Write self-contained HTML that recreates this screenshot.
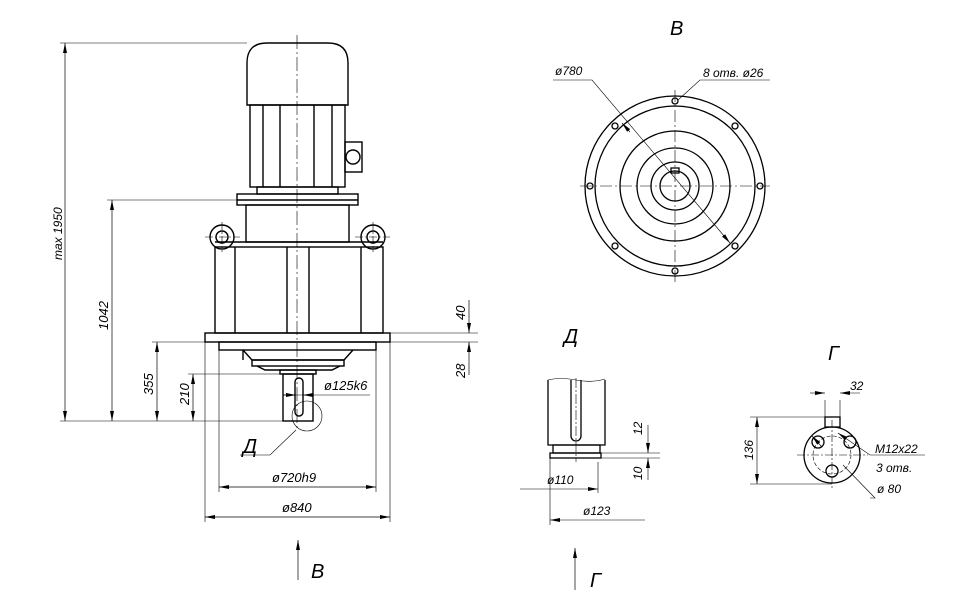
<!DOCTYPE html>
<html><head><meta charset="utf-8"><style>
html,body{margin:0;padding:0;background:#fff}
svg{display:block}
text{font-family:"Liberation Sans",sans-serif;font-style:italic;fill:#000}
</style></head><body>
<svg width="980" height="609" viewBox="0 0 980 609" xmlns="http://www.w3.org/2000/svg">
<defs>
<marker id="a" viewBox="0 0 10 4" refX="10" refY="2" markerWidth="10" markerHeight="4" orient="auto-start-reverse" markerUnits="userSpaceOnUse"><path d="M0,0L10,2L0,4z" fill="#000"/></marker>
</defs>
<g fill="none" stroke="#000" stroke-width="1.4">
<!-- motor -->
<path d="M247,105V63Q247,43 267,43H328Q348,43 348,63V105Z"/>
<rect x="250" y="105" width="95" height="82"/>
<path d="M263,105V187M280,105V187M314,105V187M332,105V187"/>
<rect x="345" y="142" width="17" height="30"/>
<circle cx="353" cy="157" r="7"/>
<rect x="257" y="187" width="81" height="7"/>
<rect x="237" y="194" width="121" height="11"/>
<path d="M237,200H358"/>
<rect x="246" y="205" width="103" height="37"/>
<circle cx="222" cy="237" r="12"/><circle cx="222" cy="237" r="6"/>
<circle cx="373" cy="237" r="12"/><circle cx="373" cy="237" r="6"/>
<path d="M215,242H383"/>
<rect x="215" y="247" width="168" height="86"/>
<path d="M235,247V333M361,247V333M287,247V333M309,247V333"/>
<rect x="205" y="333" width="185" height="9"/>
<rect x="219" y="342" width="157" height="8"/>
<path d="M243,350L252,360H344L353,350M243,350V360"/>
<rect x="252" y="360" width="92" height="6"/>
<path d="M257,366L265,370H332L340,366"/>
<rect x="280" y="370" width="36" height="4"/>
<rect x="283" y="374" width="30" height="47"/>
<rect x="295" y="378" width="8" height="38" rx="4"/>
</g>
<g fill="none" stroke="#000" stroke-width="0.6">
<circle cx="307" cy="416" r="15"/>
<path d="M297,35V430" stroke-dasharray="14,3,2,3"/>
<path d="M205,237H240M355,237H390M222,222V252M373,222V252" stroke-dasharray="8,2,2,2"/>
<!-- extension lines -->
<path d="M60,43H247M107,200H237M152,342H205M188,374H280M60,421H283"/>
<path d="M205,342V522M390,342V522M219,350V492M376,350V492"/>
<path d="M390,333H478M390,342H478"/>
<path d="M283,395H370"/>
<path d="M296,430L270,455H240"/>
</g>
<g stroke="#000" stroke-width="0.7" fill="none">
<path d="M65,43V421" marker-start="url(#a)" marker-end="url(#a)"/>
<path d="M112,200V421" marker-start="url(#a)" marker-end="url(#a)"/>
<path d="M157,342V421" marker-start="url(#a)" marker-end="url(#a)"/>
<path d="M193,374V421" marker-start="url(#a)" marker-end="url(#a)"/>
<path d="M219,487H376" marker-start="url(#a)" marker-end="url(#a)"/>
<path d="M205,517H390" marker-start="url(#a)" marker-end="url(#a)"/>
<path d="M469,300V333" marker-end="url(#a)"/>
<path d="M469,375V342" marker-end="url(#a)"/>
<path d="M283,385V395"/>
<path d="M283,395H296" marker-end="url(#a)"/><path d="M313,395H303" marker-end="url(#a)"/>
<path d="M298,580V540" marker-end="url(#a)"/>
<path d="M575,590V548" marker-end="url(#a)"/>
</g>
<g font-size="13">
<text transform="translate(62,260) rotate(-90)" font-size="12">max 1950</text>
<text transform="translate(108,330) rotate(-90)">1042</text>
<text transform="translate(153,395) rotate(-90)">355</text>
<text transform="translate(189,405) rotate(-90)">210</text>
<text transform="translate(465,320) rotate(-90)">40</text>
<text transform="translate(465,378) rotate(-90)">28</text>
<text x="324" y="390">ø125k6</text>
<text x="272" y="482">ø720h9</text>
<text x="282" y="512">ø840</text>
<text x="243" y="453" font-size="20">Д</text>
<text x="311" y="578" font-size="20">В</text>
<text x="590" y="587" font-size="20">Г</text>
<text x="670" y="35" font-size="20">В</text>
<text x="564" y="343" font-size="20">Д</text>
<text x="828" y="360" font-size="20">Г</text>
</g>
<!-- View B -->
<g fill="none" stroke="#000" stroke-width="1.3">
<circle cx="675" cy="186" r="90"/>
<circle cx="675" cy="186" r="80"/>
<circle cx="675" cy="186" r="55"/>
<circle cx="675" cy="186" r="38"/>
<circle cx="675" cy="186" r="24"/>
<circle cx="675" cy="186" r="15"/>
<rect x="671" y="168" width="8" height="5"/>
<circle cx="675" cy="101" r="3"/><circle cx="675" cy="271" r="3"/>
<circle cx="590" cy="186" r="3"/><circle cx="760" cy="186" r="3"/>
<circle cx="615" cy="126" r="3"/><circle cx="735" cy="126" r="3"/>
<circle cx="615" cy="246" r="3"/><circle cx="735" cy="246" r="3"/>
</g>
<g fill="none" stroke="#000" stroke-width="0.6">
<path d="M580,186H770M675,90V282" stroke-dasharray="12,3,2,3"/>
<path d="M553,80H592L730,243" marker-end="url(#a)"/>
<path d="M622,123L630,132" marker-start="url(#a)"/>
<path d="M770,80H700L678,100"/>
</g>
<text x="555" y="75" font-size="12">ø780</text>
<text x="703" y="77" font-size="12">8 отв. ø26</text>
<!-- View D -->
<g fill="none" stroke="#000" stroke-width="1.3">
<path d="M548,380V445H605V380"/>
<path d="M571,380V436A5,5 0 0 0 581,436V380"/>
<rect x="553" y="445" width="47" height="8"/>
<rect x="550" y="453" width="51" height="5"/>
</g>
<g fill="none" stroke="#000" stroke-width="0.6">
<path d="M548,380Q560,377 576,380T605,379"/>
<path d="M576,378V462" stroke-dasharray="10,2,2,2"/>
<path d="M600,453H660M601,458H660M550,458V525M598,462V493"/>
<path d="M520,489H598" marker-end="url(#a)"/>
<path d="M645,520H550" marker-end="url(#a)"/>
<path d="M648,425V453" marker-end="url(#a)"/>
<path d="M648,480V458" marker-end="url(#a)"/>
</g>
<text x="547" y="484" font-size="12">ø110</text>
<text x="583" y="515" font-size="12">ø123</text>
<text transform="translate(642,435) rotate(-90)" font-size="12">12</text>
<text transform="translate(642,480) rotate(-90)" font-size="12">10</text>
<!-- View G -->
<g fill="none" stroke="#000" stroke-width="1.3">
<circle cx="832" cy="455" r="28"/>
<rect x="825" y="417" width="15" height="10"/>
<circle cx="818" cy="442" r="6"/><circle cx="850" cy="442" r="6"/><circle cx="832" cy="471" r="6"/>
</g>
<g fill="none" stroke="#000" stroke-width="0.6">
<circle cx="832" cy="455" r="19" stroke-dasharray="4,2"/>
<path d="M832,420V490M797,455H868" stroke-dasharray="8,2,2,2"/>
<path d="M750,417H825M750,484H832"/>
<path d="M757,417V484" marker-start="url(#a)" marker-end="url(#a)"/>
<path d="M825,400V417M840,400V417"/>
<path d="M810,393H825" marker-end="url(#a)"/><path d="M860,393H840" marker-end="url(#a)"/>
<path d="M925,455H870L838,433" marker-end="url(#a)"/>
<path d="M870,498H875L843,465"/>
<path d="M822,447L812,436" marker-end="url(#a)"/>
</g>
<text x="850" y="390" font-size="12">32</text>
<text transform="translate(753,460) rotate(-90)" font-size="12">136</text>
<text x="875" y="453" font-size="12">M12x22</text>
<text x="876" y="472" font-size="12">3 отв.</text>
<text x="877" y="493" font-size="12">ø 80</text>
</svg>
</body></html>
